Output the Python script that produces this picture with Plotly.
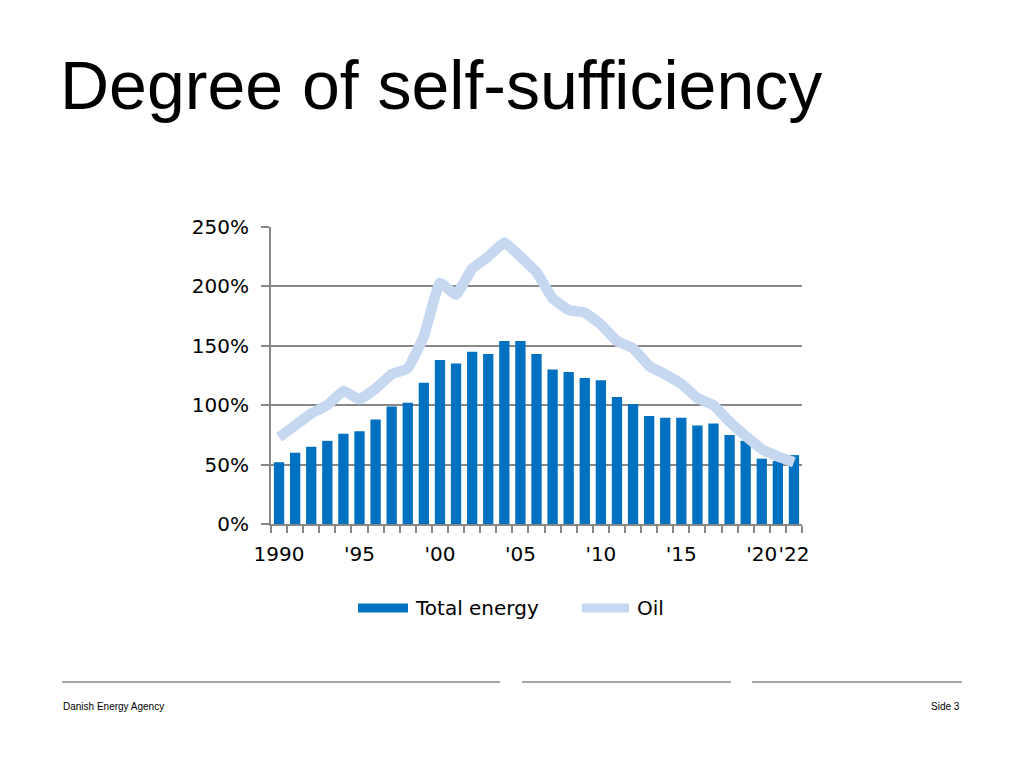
import plotly.graph_objects as go

# ---- data ----
years = list(range(1990, 2023))
total_energy = [52, 60, 65, 70, 76, 78, 88, 99, 102, 119, 138, 135, 145, 143, 154, 154,
                143, 130, 128, 123, 121, 107, 101, 91, 89.5, 89.5, 83, 84.5, 75, 70, 55, 53, 58]
oil = [73, 83, 93, 100, 112, 105, 114, 126, 131, 158, 203, 193, 215, 225, 237, 225,
       212, 190, 180, 178, 168, 154, 148, 133, 126, 118, 106, 100, 86, 74, 63, 57, 52]
tick_years = [1990, 1995, 2000, 2005, 2010, 2015, 2020, 2022]
tick_labels = ["1990", "'95", "'00", "'05", "'10", "'15", "'20", "'22"]
y_ticks = [0, 50, 100, 150, 200, 250]
series_names = ["Total energy", "Oil"]

BAR_COLOR = "#0070C0"
OIL_COLOR = "#C6D8EF"
GRID = "#888888"
FONT_AX = "DejaVu Sans"

# page offset of the figure (body margin)
OFF = 8
FIG_W, FIG_H = 1024 - OFF, 768 - OFF

# plot area in page pixels
L, R, T, B = 271, 802, 227, 524
W, H = R - L, B - T


def px_x(px):
    return (px - L) / W


def px_y(py):
    return (B - py) / H


fig = go.Figure()
fig.add_trace(go.Bar(x=years, y=total_energy, name=series_names[0],
                     marker=dict(color=BAR_COLOR, line=dict(width=0)),
                     showlegend=False))
fig.add_trace(go.Scatter(x=years, y=oil, name=series_names[1], mode="lines",
                         line=dict(color=OIL_COLOR, width=10.5, shape="spline", smoothing=0.3),
                         showlegend=False))

shapes = []
annotations = []

# manual legend
shapes.append(dict(type="rect", xref="paper", yref="paper",
                   x0=px_x(358), x1=px_x(408), y0=px_y(612.5), y1=px_y(603.5),
                   fillcolor=BAR_COLOR, line=dict(width=0)))
shapes.append(dict(type="line", xref="paper", yref="paper",
                   x0=px_x(582), x1=px_x(629), y0=px_y(608), y1=px_y(608),
                   line=dict(color=OIL_COLOR, width=9)))
annotations.append(dict(text=series_names[0], xref="paper", yref="paper",
                        x=px_x(413), y=px_y(608), xanchor="left", yanchor="middle",
                        showarrow=False, font=dict(family=FONT_AX, size=20, color="#000")))
annotations.append(dict(text=series_names[1], xref="paper", yref="paper",
                        x=px_x(635), y=px_y(608), xanchor="left", yanchor="middle",
                        showarrow=False, font=dict(family=FONT_AX, size=20, color="#000")))

# title
annotations.append(dict(text="Degree of self-sufficiency", xref="paper", yref="paper",
                        x=px_x(58), y=px_y(85), xanchor="left", yanchor="middle",
                        showarrow=False,
                        font=dict(family="Liberation Sans", size=68, color="#000")))

# footer lines
for a, b in [(62, 500), (522, 731), (752, 962)]:
    shapes.append(dict(type="line", xref="paper", yref="paper",
                       x0=px_x(a), x1=px_x(b), y0=px_y(682), y1=px_y(682),
                       line=dict(color="#8a8a8a", width=1.5)))
annotations.append(dict(text="Danish Energy Agency", xref="paper", yref="paper",
                        x=px_x(61), y=px_y(706), xanchor="left", yanchor="middle",
                        showarrow=False,
                        font=dict(family="Liberation Sans Narrow, Liberation Sans", size=10, color="#000")))
annotations.append(dict(text="Side 3", xref="paper", yref="paper",
                        x=px_x(962), y=px_y(706), xanchor="right", yanchor="middle",
                        showarrow=False,
                        font=dict(family="Liberation Sans Narrow, Liberation Sans", size=10, color="#000")))

fig.update_layout(
    width=FIG_W, height=FIG_H,
    margin=dict(l=L - OFF, r=FIG_W - (R - OFF), t=T - OFF, b=FIG_H - (B - OFF), pad=0),
    plot_bgcolor="white", paper_bgcolor="white",
    bargap=0.36,
    shapes=shapes, annotations=annotations,
    showlegend=False,
)

fig.update_xaxes(
    range=[years[0] - 0.5, years[-1] + 0.5],
    tickmode="array", tickvals=tick_years, ticktext=tick_labels, tickangle=0,
    ticks="", showgrid=False,
    showline=True, linecolor=GRID, linewidth=2,
    minor=dict(tickmode="array", tickvals=[y - 0.5 for y in years] + [years[-1] + 0.5],
               ticks="outside", ticklen=7, tickwidth=1.5, tickcolor=GRID, showgrid=False),
    tickfont=dict(family=FONT_AX, size=20, color="#000"),
    ticklabelstandoff=11,
    zeroline=False,
)
fig.update_yaxes(
    range=[0, 250],
    tickmode="array", tickvals=y_ticks, ticktext=[f"{v}%" for v in y_ticks],
    ticks="outside", ticklen=8, tickwidth=2, tickcolor=GRID,
    showgrid=True, gridcolor=GRID, gridwidth=2,
    showline=True, linecolor=GRID, linewidth=2,
    tickfont=dict(family=FONT_AX, size=20, color="#000"),
    ticklabelstandoff=8,
    zeroline=False,
)

fig.write_html("out.html")
